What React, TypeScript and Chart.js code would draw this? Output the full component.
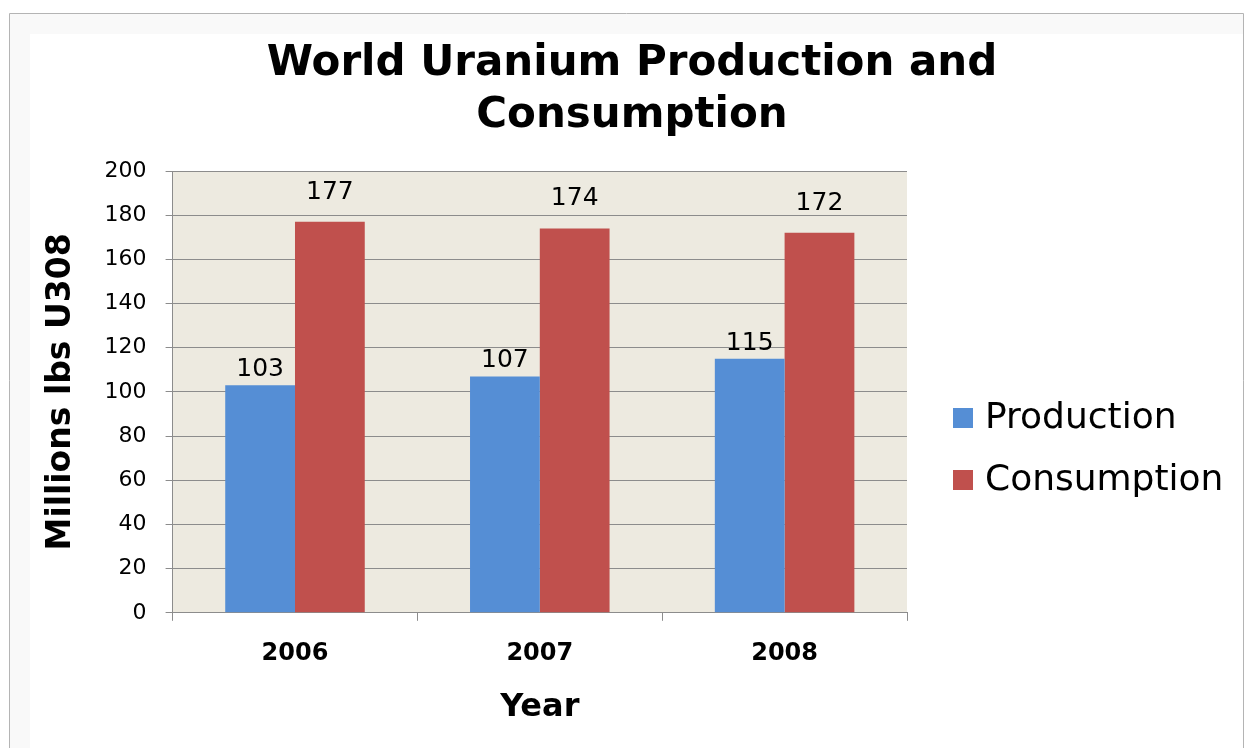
import React, { useEffect, useRef } from "react";
import { Chart, registerables } from "chart.js";

Chart.register(...registerables);

const titleLines = ["World Uranium Production and", "Consumption"];
const categories = ["2006", "2007", "2008"];
const seriesNames = ["Production", "Consumption"];
const production = [103, 107, 115];
const consumption = [177, 174, 172];
const yTicksMin = 0;
const yTicksMax = 200;
const yTicksStep = 20;
const yAxisTitle = "Millions lbs U308";
const xAxisTitle = "Year";

const FONT = "'DejaVu Sans', Verdana, sans-serif";
const BLUE = "#558ED5";
const RED = "#C0504D";
const GRID = "#8C8C8C";
const PLOT_BG = "#EDEAE0";
const LABEL_GAPS = [9, 23];

const framePlugin = {
  id: "frame",
  beforeDraw(chart: any) {
    const { ctx, width, height, chartArea } = chart;
    ctx.save();
    ctx.fillStyle = "#ffffff";
    ctx.fillRect(0, 0, width, height);
    // soft bevel inside the frame
    ctx.fillStyle = "#F9F9F9";
    ctx.fillRect(10, 14, 20, height - 14);
    ctx.fillRect(10, 14, width - 12, 20);
    ctx.fillStyle = "#ffffff";
    ctx.fillRect(30, 34, width - 40, height - 34);
    ctx.strokeStyle = "#B4B4B4";
    ctx.lineWidth = 1;
    ctx.beginPath();
    ctx.moveTo(9.5, height);
    ctx.lineTo(9.5, 13.5);
    ctx.lineTo(width - 2.5, 13.5);
    ctx.lineTo(width - 2.5, height);
    ctx.stroke();
    // plot area background
    ctx.fillStyle = PLOT_BG;
    ctx.fillRect(chartArea.left, chartArea.top, chartArea.right - chartArea.left, chartArea.bottom - chartArea.top);
    ctx.restore();
  },
};

const titlePlugin = {
  id: "twoLineTitle",
  afterDraw(chart: any) {
    const { ctx } = chart;
    ctx.save();
    ctx.font = `bold 42px ${FONT}`;
    ctx.fillStyle = "#000";
    ctx.textAlign = "center";
    ctx.textBaseline = "middle";
    titleLines.forEach((line, i) => {
      ctx.fillText(line, 632, 64 + i * 52);
    });
    ctx.restore();
  },
};

const valueLabelPlugin = {
  id: "valueLabels",
  afterDatasetsDraw(chart: any) {
    const { ctx } = chart;
    ctx.save();
    ctx.font = `25px ${FONT}`;
    ctx.fillStyle = "#000";
    ctx.textAlign = "center";
    ctx.textBaseline = "alphabetic";
    chart.data.datasets.forEach((ds: any, i: number) => {
      const meta = chart.getDatasetMeta(i);
      meta.data.forEach((bar: any, j: number) => {
        ctx.fillText(String(ds.data[j]), bar.x, bar.y - LABEL_GAPS[i]);
      });
    });
    ctx.restore();
  },
};

const sideLegendPlugin = {
  id: "sideLegend",
  afterDraw(chart: any) {
    const { ctx, chartArea } = chart;
    ctx.save();
    ctx.font = `36px ${FONT}`;
    ctx.textBaseline = "middle";
    ctx.textAlign = "left";
    chart.data.datasets.forEach((ds: any, i: number) => {
      const cy = chartArea.top + 247 + i * 62;
      const bx = chartArea.right + 46;
      ctx.fillStyle = ds.backgroundColor;
      ctx.fillRect(bx, cy - 10, 20, 20);
      ctx.fillStyle = "#000";
      ctx.fillText(ds.label, bx + 32, cy + 1);
    });
    ctx.restore();
  },
};

export default function App() {
  const ref = useRef<HTMLCanvasElement | null>(null);
  useEffect(() => {
    if (!ref.current) return;
    Chart.defaults.font.family = FONT;
    const chart = new Chart(ref.current, {
      type: "bar",
      data: {
        labels: categories,
        datasets: [
          { label: seriesNames[0], data: production, backgroundColor: BLUE, barPercentage: 1, categoryPercentage: 0.57 },
          { label: seriesNames[1], data: consumption, backgroundColor: RED, barPercentage: 1, categoryPercentage: 0.57 },
        ],
      },
      options: {
        animation: false,
        responsive: false,
        devicePixelRatio: 1,
        layout: { padding: { top: 171, right: 339, bottom: 21, left: 30 } },
        plugins: {
          legend: { display: false },
          tooltip: { enabled: false },
          title: { display: false },
        },
        scales: {
          x: {
            grid: { display: true, drawOnChartArea: false, drawTicks: true, tickLength: 8, color: GRID, offset: true },
            border: { display: true, color: GRID },
            ticks: { color: "#000", font: { family: FONT, size: 24, weight: "bold" }, padding: 19 },
            title: {
              display: true,
              text: xAxisTitle,
              color: "#000",
              font: { family: FONT, size: 32, weight: "bold", lineHeight: 1.2 },
              padding: { top: 1, bottom: 0 },
            },
          },
          y: {
            min: yTicksMin,
            max: yTicksMax,
            grid: { color: GRID, tickLength: 7, drawTicks: true },
            border: { display: true, color: GRID },
            ticks: { stepSize: yTicksStep, color: "#000", font: { family: FONT, size: 22 }, padding: 19 },
            title: {
              display: true,
              text: yAxisTitle,
              color: "#000",
              font: { family: FONT, size: 33, weight: "bold", lineHeight: 1.2 },
              padding: { top: 12, bottom: 4 },
            },
          },
        },
      },
      plugins: [framePlugin, valueLabelPlugin, sideLegendPlugin, titlePlugin],
    });
    return () => chart.destroy();
  }, []);
  return (
    <div style={{ position: "fixed", left: 0, top: 0, width: 1246, height: 748 }}>
      <canvas ref={ref} width={1246} height={748} style={{ width: 1246, height: 748 }} />
    </div>
  );
}
